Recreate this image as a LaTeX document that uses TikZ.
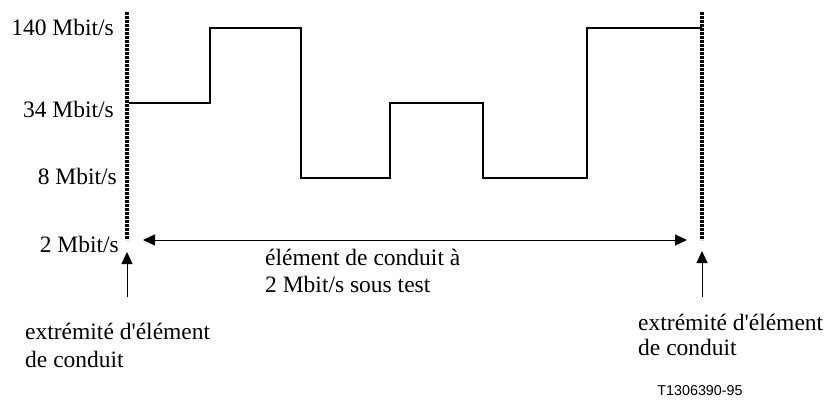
\documentclass[tikz,border=0pt]{standalone}
\usepackage{fontspec}
\setmainfont{Liberation Serif}
\newfontfamily\labelsans{Liberation Sans}
\usetikzlibrary{arrows.meta}
\begin{document}
\begin{tikzpicture}[x=1pt,y=-1pt,
  lbl/.style={inner sep=0pt, font=\fontsize{23.5}{28}\selectfont},
  boundary/.style={line width=3.2pt, dash pattern=on 2.6pt off 1.4pt},
  wave/.style={line width=1.6pt, line join=miter},
  arr/.style={line width=0.9pt, -{Triangle[length=12pt,width=11pt]}},
  darr/.style={line width=0.9pt, {Triangle[length=12pt,width=11pt]}-{Triangle[length=12pt,width=11pt]}}]
\useasboundingbox (0,0) rectangle (830,405);
% boundaries
\coordinate (lt) at (127,12);
\coordinate (lb) at (127,240);
\coordinate (rt) at (702,12);
\coordinate (rb) at (702,240);
\draw[boundary] (lt) -- (lb);
\draw[boundary] (rt) -- (rb);
% waveform
\coordinate (w0) at (129,103);
\coordinate (w1) at (210,103);
\coordinate (w2) at (210,28);
\coordinate (w3) at (301,28);
\coordinate (w4) at (301,178);
\coordinate (w5) at (390,178);
\coordinate (w6) at (390,103);
\coordinate (w7) at (483,103);
\coordinate (w8) at (483,178);
\coordinate (w9) at (587,178);
\coordinate (w10) at (587,28);
\coordinate (w11) at (702,28);
\draw[wave] (w0) -- (w1) -- (w2) -- (w3) -- (w4) -- (w5) -- (w6) -- (w7) -- (w8) -- (w9) -- (w10) -- (w11);
% rate labels
\node[lbl, anchor=base east] (r140) at (114,35) {140 Mbit/s};
\node[lbl, anchor=base east] (r34) at (114,117) {34 Mbit/s};
\node[lbl, anchor=base east] (r8) at (117,184) {8 Mbit/s};
\node[lbl, anchor=base east] (r2) at (119,252) {2 Mbit/s};
% span arrow
\coordinate (sa) at (143,240);
\coordinate (sb) at (687,240);
\draw[darr] (sa) -- (sb);
\node[lbl, anchor=base west, align=left, font=\fontsize{23.5}{27}\selectfont] (span) at (265,292) {élément de conduit à\\2 Mbit/s sous test};
% end arrows
\coordinate (la) at (127,297);
\coordinate (lh) at (127,252);
\coordinate (ra) at (702,297);
\coordinate (rh) at (702,251);
\draw[arr] (la) -- (lh);
\draw[arr] (ra) -- (rh);
\node[lbl, anchor=base west, align=left] (le) at (25,367) {extrémité d\textquotesingle élément\\de conduit};
\node[lbl, anchor=base west, align=left, font=\fontsize{23.5}{25}\selectfont] (re) at (638,355) {extrémité d\textquotesingle élément\\de conduit};
\node[inner sep=0pt, font=\labelsans\fontsize{14.3}{17}\selectfont] (tag) at (700,391) {T1306390-95};
\end{tikzpicture}
\end{document}
